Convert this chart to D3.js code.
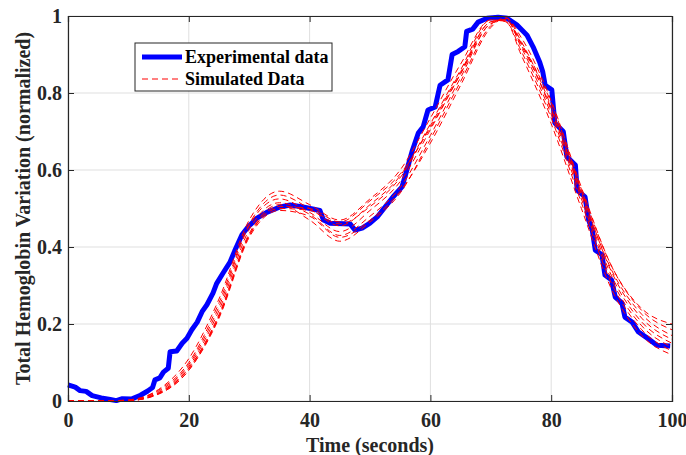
<!DOCTYPE html>
<html>
<head>
<meta charset="utf-8">
<script src="https://cdn.jsdelivr.net/npm/d3@7"></script>
<style>
  body { margin: 0; background: #fff; }
  svg { display: block; font-family: "Liberation Serif", "Times New Roman", serif; font-weight: bold; }
</style>
</head>
<body>
<svg id="chart" width="686" height="455"></svg>
<script>
// experimental trace (blue, stepwise)
var expTime = [0, 1.2, 2, 3, 4, 5.5, 7, 8, 9, 10.5, 12, 13.2, 14, 14.4, 15.2, 15.8, 16.6, 16.9, 18, 18.9,
	19.7, 20.5, 21.4, 22.2, 23, 24, 24.6, 25.7, 26.8, 27.6, 28.8, 29.8, 31.3, 32.9, 35.1, 36.8, 38.9, 40.1,
	41.7, 42.3, 43.4, 46.7, 47.5, 48.7, 50, 51.2, 52.5, 53.8, 55.3, 56.1, 57, 58, 58.8, 59.6, 60.8, 61.6,
	62.9, 63.6, 64.6, 65.7, 66, 67, 67.9, 69.4, 71.2, 72.7, 74.3, 76, 77, 78.1, 78.6, 79, 80.1, 80.6, 82,
	82.6, 84, 84.3, 85.6, 86.2, 86.8, 87.3, 88.4, 88.9, 90, 90.6, 91.7, 92.2, 93.4, 94.4, 96.4, 97.5, 99.7];
var expValue = [0.042, 0.036, 0.027, 0.025, 0.014, 0.008, 0.004, 0.001, 0.006, 0.005, 0.015, 0.026, 0.035, 0.055, 0.06, 0.075, 0.085, 0.128, 0.13, 0.15,
	0.163, 0.185, 0.205, 0.232, 0.25, 0.28, 0.305, 0.333, 0.36, 0.39, 0.432, 0.452, 0.475, 0.49, 0.504, 0.509, 0.504, 0.5,
	0.495, 0.47, 0.462, 0.46, 0.444, 0.449, 0.462, 0.478, 0.504, 0.53, 0.556, 0.6, 0.65, 0.696, 0.712, 0.756, 0.764, 0.82,
	0.834, 0.9, 0.908, 0.92, 0.96, 0.966, 0.984, 0.994, 0.997, 0.994, 0.977, 0.95, 0.92, 0.88, 0.855, 0.82, 0.808, 0.722, 0.7,
	0.634, 0.613, 0.548, 0.53, 0.47, 0.444, 0.392, 0.38, 0.327, 0.314, 0.27, 0.255, 0.218, 0.205, 0.18, 0.158, 0.145, 0.143];

// simulated traces (red dashed)
var simTime = [0, 5, 10, 15, 20, 25, 30, 35, 40, 45, 50, 55, 60, 65, 70, 72.5, 75, 80, 85, 90, 95, 100];
var sim1 = [0, 0, 0.003, 0.03, 0.11, 0.265, 0.47, 0.545, 0.51, 0.47, 0.525, 0.6, 0.735, 0.875, 0.99, 0.985, 0.9, 0.72, 0.5, 0.29, 0.17, 0.12];
var sim2 = [0, 0, 0.002, 0.028, 0.1, 0.255, 0.46, 0.535, 0.5, 0.455, 0.51, 0.585, 0.72, 0.86, 0.99, 0.985, 0.91, 0.735, 0.515, 0.305, 0.185, 0.13];
var sim3 = [0, 0, 0.002, 0.025, 0.095, 0.245, 0.455, 0.525, 0.49, 0.44, 0.495, 0.57, 0.705, 0.85, 0.985, 0.99, 0.92, 0.745, 0.525, 0.315, 0.195, 0.14];
var sim4 = [0, 0, 0.001, 0.022, 0.09, 0.235, 0.445, 0.515, 0.485, 0.43, 0.48, 0.555, 0.69, 0.84, 0.98, 0.99, 0.93, 0.755, 0.535, 0.325, 0.205, 0.15];
var sim5 = [0, 0, 0.001, 0.02, 0.085, 0.225, 0.435, 0.51, 0.47, 0.415, 0.465, 0.54, 0.68, 0.83, 0.975, 0.995, 0.935, 0.765, 0.545, 0.335, 0.215, 0.16];
var sim6 = [0, 0, 0.001, 0.02, 0.085, 0.22, 0.43, 0.5, 0.495, 0.46, 0.505, 0.58, 0.715, 0.855, 0.985, 0.99, 0.925, 0.76, 0.54, 0.34, 0.225, 0.17];
var sim7 = [0, 0, 0.001, 0.018, 0.08, 0.215, 0.425, 0.495, 0.48, 0.425, 0.47, 0.545, 0.67, 0.82, 0.97, 0.995, 0.945, 0.78, 0.555, 0.35, 0.235, 0.185];
var sim8 = [0, 0, 0.001, 0.018, 0.08, 0.22, 0.43, 0.505, 0.5, 0.465, 0.52, 0.59, 0.71, 0.85, 0.98, 0.99, 0.93, 0.775, 0.55, 0.35, 0.24, 0.2];
var simSeries = [sim1, sim2, sim3, sim4, sim5, sim6, sim7, sim8];

var xTicks = [0, 20, 40, 60, 80, 100];
var yTicks = [0, 0.2, 0.4, 0.6, 0.8, 1];
var legendLabels = ["Experimental data", "Simulated Data"];

var svg = d3.select("#chart");
var margins = { top: 16, bottom: 54, left: 68, right: 14 };
var width = 686 - margins.left - margins.right;
var height = 455 - margins.top - margins.bottom;
var axisColor = "#262626";

var xScale = d3.scaleLinear().domain([0, 100]).range([0, width]);
var yScale = d3.scaleLinear().domain([0, 1]).range([height, 0]);

var g = svg.append("g").attr("transform", "translate(" + margins.left + "," + margins.top + ")");

// grid
g.append("g").selectAll("line").data(xTicks).enter().append("line")
	.attr("x1", function(d) { return xScale(d); }).attr("x2", function(d) { return xScale(d); })
	.attr("y1", 0).attr("y2", height)
	.attr("stroke", "#dfdfdf").attr("stroke-width", 1);
g.append("g").selectAll("line").data(yTicks).enter().append("line")
	.attr("y1", function(d) { return yScale(d); }).attr("y2", function(d) { return yScale(d); })
	.attr("x1", 0).attr("x2", width)
	.attr("stroke", "#dfdfdf").attr("stroke-width", 1);

svg.append("defs").append("clipPath").attr("id", "plotclip")
	.append("rect").attr("x", -3).attr("y", -3).attr("width", width + 6).attr("height", height + 6);

var plot = g.append("g").attr("clip-path", "url(#plotclip)");

var expLine = d3.line()
	.x(function(d, i) { return xScale(expTime[i]); })
	.y(function(d) { return yScale(d); });

plot.append("path").datum(expValue)
	.attr("d", expLine)
	.attr("fill", "none").attr("stroke", "#0000ff").attr("stroke-width", 5)
	.attr("stroke-linejoin", "round");

var simLine = d3.line()
	.curve(d3.curveMonotoneX)
	.x(function(d, i) { return xScale(simTime[i]); })
	.y(function(d) { return yScale(d); });

plot.selectAll(".sim").data(simSeries).enter().append("path")
	.attr("class", "sim")
	.attr("d", simLine)
	.attr("fill", "none").attr("stroke", "#ff0000").attr("stroke-width", 1)
	.attr("stroke-dasharray", "6,4");

// axes (ticks inward, box on all sides)
var xAxis = g.append("g").attr("transform", "translate(0," + height + ")")
	.call(d3.axisBottom(xScale).tickValues(xTicks).tickSize(-6).tickPadding(12).tickFormat(d3.format("d")));
var xAxisTop = g.append("g")
	.call(d3.axisTop(xScale).tickValues(xTicks).tickSize(-6).tickFormat(""));
var yAxis = g.append("g")
	.call(d3.axisLeft(yScale).tickValues(yTicks).tickSize(-6).tickPadding(6).tickFormat(function(d) { return d3.format("")(d); }));
var yAxisRight = g.append("g").attr("transform", "translate(" + width + ",0)")
	.call(d3.axisRight(yScale).tickValues(yTicks).tickSize(-6).tickFormat(""));

[xAxis, xAxisTop, yAxis, yAxisRight].forEach(function(a) {
	a.select(".domain").attr("stroke", axisColor).attr("stroke-width", 1.2);
	a.selectAll(".tick line").attr("stroke", axisColor);
	a.selectAll(".tick text").attr("fill", axisColor).style("font-size", "20px")
		.style("font-family", "'Liberation Serif', serif").style("font-weight", "bold");
});

// axis labels
svg.append("text")
	.attr("x", margins.left + width / 2).attr("y", 452)
	.attr("text-anchor", "middle").attr("fill", axisColor)
	.style("font-size", "20px")
	.text("Time (seconds)");
svg.append("text")
	.attr("transform", "translate(30," + (margins.top + height / 2) + ") rotate(-90)")
	.attr("text-anchor", "middle").attr("fill", axisColor)
	.style("font-size", "20px")
	.text("Total Hemoglobin Variation (normalized)");

// legend
var legend = g.append("g").attr("transform", "translate(" + (135 - margins.left) + "," + (43 - margins.top) + ")");
legend.append("rect").attr("width", 197).attr("height", 48)
	.attr("fill", "#fff").attr("stroke", axisColor).attr("stroke-width", 1);
legend.append("line").attr("x1", 7).attr("x2", 47).attr("y1", 14).attr("y2", 14)
	.attr("stroke", "#0000ff").attr("stroke-width", 5);
legend.append("line").attr("x1", 7).attr("x2", 47).attr("y1", 36).attr("y2", 36)
	.attr("stroke", "#ff0000").attr("stroke-width", 1).attr("stroke-dasharray", "6,4");
legend.selectAll(".lbl").data(legendLabels).enter().append("text")
	.attr("class", "lbl")
	.attr("x", 50).attr("y", function(d, i) { return 20 + i * 22; })
	.attr("fill", "#000").style("font-size", "18px")
	.text(function(d) { return d; });
</script>
</body>
</html>
